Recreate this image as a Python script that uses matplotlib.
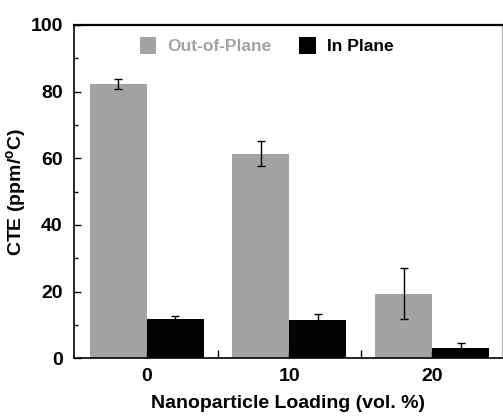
import numpy as np
import matplotlib.pyplot as plt
from matplotlib.ticker import MultipleLocator, FixedLocator

plt.rcParams['font.family'] = ['Liberation Sans', 'DejaVu Sans']
plt.rcParams['font.weight'] = 'bold'
plt.rcParams['mathtext.fontset'] = 'custom'
plt.rcParams['mathtext.rm'] = 'Liberation Sans:bold'
plt.rcParams['mathtext.bf'] = 'Liberation Sans:bold'
plt.rcParams['mathtext.it'] = 'Liberation Sans:bold'

labels = ['0', '10', '20']
out_plane = [82.3, 61.4, 19.4]
out_plane_err = [1.6, 3.8, 7.7]
in_plane = [11.7, 11.4, 3.2]
in_plane_err = [1.0, 1.9, 1.5]

gray = '#a3a3a3'
ind = np.arange(len(labels))
width = 0.40

fig = plt.figure(figsize=(5.03, 4.16), dpi=100)
ax = fig.add_axes([0.147, 0.139, 0.851, 0.801])

ax.bar(ind - width / 2, out_plane, width, color=gray, label='Out-of-Plane')
ax.bar(ind + width / 2, in_plane, width, color='black', label='In Plane')
ax.errorbar(ind - width / 2, out_plane, yerr=out_plane_err, fmt='none',
            ecolor='black', elinewidth=1, capsize=3, capthick=1)
ax.errorbar(ind + width / 2, in_plane, yerr=in_plane_err, fmt='none',
            ecolor='black', elinewidth=1, capsize=3, capthick=1)

ax.set_xlim(-0.51, 2.49)
ax.set_ylim(0, 100)
ax.set_xticks(ind)
ax.set_xticklabels(labels)
ax.xaxis.set_minor_locator(FixedLocator([0.5, 1.5]))
ax.yaxis.set_major_locator(MultipleLocator(20))
ax.yaxis.set_minor_locator(MultipleLocator(10))

ax.tick_params(axis='both', which='both', direction='in', labelsize=14)
ax.tick_params(which='major', length=5, width=1)
ax.tick_params(which='minor', length=3, width=1)
ax.tick_params(axis='x', which='minor', length=6)
ax.tick_params(axis='y', which='major', pad=8)
ax.tick_params(axis='x', which='major', pad=7)
ax.tick_params(top=False, right=False)

for s in ['left', 'bottom']:
    ax.spines[s].set_linewidth(1.2)
ax.spines['top'].set_linewidth(1.6)
ax.spines['right'].set_color('#b0b0b0')
ax.spines['right'].set_linewidth(0.8)

ax.set_ylabel(r'CTE (ppm/$^{\mathbf{o}}$C)', fontsize=14, fontweight='bold',
              labelpad=2)
ax.set_xlabel('Nanoparticle Loading (vol. %)', fontsize=14, fontweight='bold',
              labelpad=7)

leg = ax.legend(loc='upper left', ncol=2, frameon=False, fontsize=12.5,
                handlelength=0.95, handleheight=1.2, columnspacing=1.6,
                handletextpad=0.65, bbox_to_anchor=(0.117, 1.012))
leg.get_texts()[0].set_color(gray)

fig.savefig('out.png', dpi=100)
